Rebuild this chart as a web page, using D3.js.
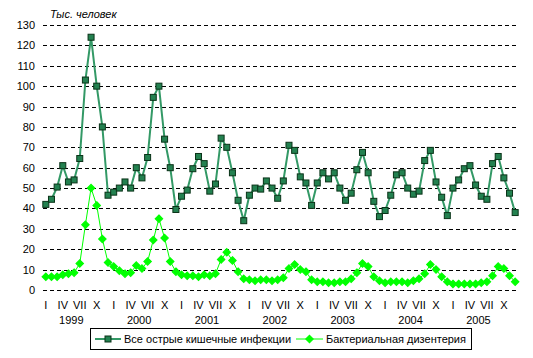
<!DOCTYPE html>
<html>
<head>
<meta charset="utf-8">
<script src="https://cdn.jsdelivr.net/npm/d3@7"></script>
<style>
body { margin: 0; background: #fff; }
svg text { font-family: "Liberation Sans", Arial, sans-serif; font-size: 11px; fill: #000; }
</style>
</head>
<body>
<svg width="533" height="358"></svg>
<script>
const years = ["1999", "2000", "2001", "2002", "2003", "2004", "2005"];
const monthLabels = ["I", "", "", "IV", "", "", "VII", "", "", "X", "", ""];
const yTicks = [0, 10, 20, 30, 40, 50, 60, 70, 80, 90, 100, 110, 120, 130];

// Все острые кишечные инфекции, тыс. человек, по месяцам 1999-2005
const allInfections = [
    42, 44.5, 50.5, 61, 53, 54, 64.5, 103, 124, 100, 80, 46.5,
    48, 50, 53, 50, 60, 55, 65, 94.5, 100, 74, 60, 39.5,
    46, 49, 59.5, 65.5, 62, 48.5, 52, 74.5, 70, 57.5, 44, 34,
    46.5, 50, 49.5, 53.5, 50, 45, 53.5, 71, 68.5, 55.5, 52.5, 41.5,
    52.5, 57.5, 54.5, 57.5, 50, 44, 47.5, 59, 67.5, 57.5, 43.5, 36,
    39, 46.5, 56.5, 57.5, 50, 47, 48.5, 63.5, 68.5, 53, 45.5, 36.5,
    50, 54, 59.5, 61, 51.5, 46, 44.5, 62, 65.5, 55, 47.5, 38
];
// Бактериальная дизентерия
const dysentery = [
    6.5, 6.5, 6.5, 7.5, 8, 8.5, 13, 32, 50, 41.5, 25, 13.5,
    11.5, 9.5, 8, 8.5, 12, 10.5, 14, 24.5, 35, 25.5, 14, 9,
    7.5, 7, 7, 6.5, 7.5, 7, 8, 15, 18.5, 14.5, 9, 5.5,
    5, 4.5, 5, 5, 4.5, 5, 6, 10.5, 12.5, 10, 9, 5,
    4, 4, 3.5, 3.5, 4, 4, 5.5, 8.5, 13, 11.5, 6.5, 4.5,
    3.5, 4, 4, 4, 3.5, 4.5, 5.5, 8, 12.5, 10, 6.5, 4,
    3, 3, 3, 3, 3, 3.5, 4, 7, 11.5, 10.5, 7, 4
];

const months = d3.range(allInfections.length);

const svg = d3.select("svg");
const margin = {left: 43, right: 15, top: 25, bottom: 68};
const width = 533, height = 358;

const x = d3.scaleBand()
    .domain(months)
    .range([margin.left, width - margin.right]);
const y = d3.scaleLinear()
    .domain([0, 130])
    .range([height - margin.bottom, margin.top]);

// gridlines
svg.append("g")
    .selectAll("line")
    .data(yTicks)
    .enter()
    .append("line")
    .attr("x1", margin.left)
    .attr("x2", width - margin.right)
    .attr("y1", d => Math.round(y(d)) + 0.5)
    .attr("y2", d => Math.round(y(d)) + 0.5)
    .attr("stroke", "#000")
    .attr("stroke-dasharray", "4,3");

// y axis labels
const yAxis = svg.append("g")
    .attr("transform", "translate(" + (margin.left - 8) + ",0)")
    .call(d3.axisLeft(y).tickValues(yTicks).tickSize(0).tickPadding(0));
yAxis.select(".domain").remove();
yAxis.selectAll("text").style("font-size", "11px").style("font-family", "Liberation Sans, Arial, sans-serif");

svg.append("text")
    .attr("x", 50)
    .attr("y", 18)
    .style("font-style", "italic")
    .style("font-size", "11px")
    .text("Тыс. человек");

// x axis: month labels and years
const xAxis = svg.append("g")
    .attr("transform", "translate(0," + (height - margin.bottom + 11) + ")")
    .call(d3.axisBottom(x)
        .tickSize(0)
        .tickPadding(0)
        .tickFormat(d => monthLabels[d % 12]));
xAxis.select(".domain").remove();
xAxis.selectAll("text").style("font-size", "11px").style("font-family", "Liberation Sans, Arial, sans-serif");

svg.append("g")
    .selectAll("text")
    .data(years)
    .enter()
    .append("text")
    .attr("x", (d, i) => x(i * 12 + 5))
    .attr("y", height - margin.bottom + 34)
    .attr("text-anchor", "middle")
    .text(d => d);

// series
const line = d3.line()
    .x((d, i) => x(i) + x.bandwidth() / 2)
    .y(d => y(d));

svg.append("path")
    .datum(allInfections)
    .attr("d", line)
    .attr("fill", "none")
    .attr("stroke", "#339966")
    .attr("stroke-width", 2);

svg.append("path")
    .datum(dysentery)
    .attr("d", line)
    .attr("fill", "none")
    .attr("stroke", "#00ff00")
    .attr("stroke-width", 1);

const diamond = d3.symbol().type(d3.symbolDiamond2).size(34);

function drawSquares(g, data) {
    g.selectAll("rect")
        .data(data)
        .enter()
        .append("rect")
        .attr("x", (d, i) => x(i) + x.bandwidth() / 2 - 3)
        .attr("y", d => y(d) - 3)
        .attr("width", 6)
        .attr("height", 6)
        .attr("fill", "#238150")
        .attr("stroke", "#0a3318")
        .attr("stroke-width", 1);
}

svg.append("g").selectAll("path")
    .data(dysentery)
    .enter()
    .append("path")
    .attr("d", diamond)
    .attr("transform", (d, i) => "translate(" + (x(i) + x.bandwidth() / 2) + "," + y(d) + ")")
    .attr("fill", "#00ff00")
    .attr("stroke", "#00ff00")
    .attr("stroke-width", 1.2);

drawSquares(svg.append("g"), allInfections);

// legend
const legend = svg.append("g");
legend.append("rect")
    .attr("x", 90.5)
    .attr("y", 328.5)
    .attr("width", 381)
    .attr("height", 21)
    .attr("fill", "#fff")
    .attr("stroke", "#000");

legend.append("line")
    .attr("x1", 95).attr("x2", 121)
    .attr("y1", 339).attr("y2", 339)
    .attr("stroke", "#339966").attr("stroke-width", 2);
legend.append("rect")
    .attr("x", 105).attr("y", 336).attr("width", 6).attr("height", 6)
    .attr("fill", "#238150").attr("stroke", "#0a3318");
legend.append("text")
    .attr("x", 124).attr("y", 343)
    .text("Все острые кишечные инфекции");

legend.append("line")
    .attr("x1", 296).attr("x2", 323)
    .attr("y1", 339).attr("y2", 339)
    .attr("stroke", "#00ff00").attr("stroke-width", 1);
legend.append("path")
    .attr("d", diamond)
    .attr("transform", "translate(309.5,339)")
    .attr("fill", "#00ff00").attr("stroke", "#00ff00").attr("stroke-width", 1.2);
legend.append("text")
    .attr("x", 326).attr("y", 343)
    .text("Бактериальная дизентерия");
</script>
</body>
</html>
